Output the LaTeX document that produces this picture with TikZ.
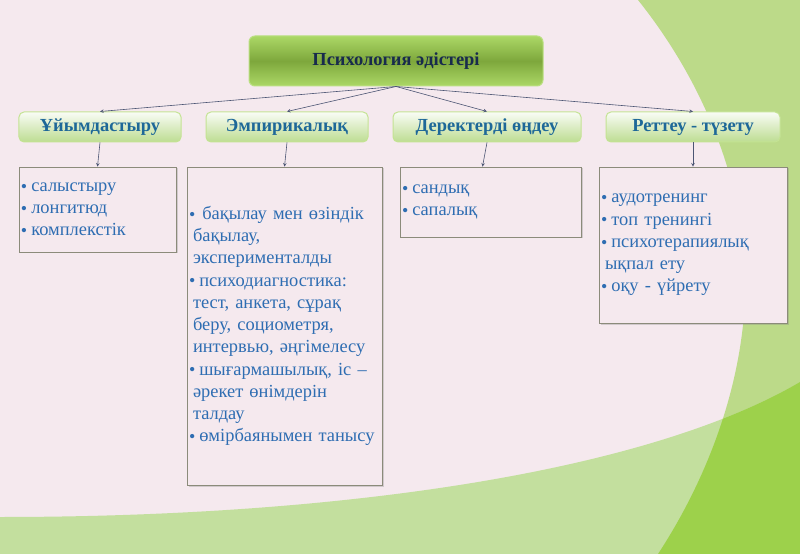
\documentclass[tikz,border=0pt]{standalone}
\usepackage{fontspec}
\setmainfont{Liberation Serif}
\usepackage{tikz}
\usetikzlibrary{shadows}
\definecolor{paper}{HTML}{F5E9EE}
\definecolor{leaf}{HTML}{C3DF9E}
\definecolor{leaftop}{HTML}{BCDA89}
\definecolor{leafdeep}{HTML}{9DD14B}
\definecolor{ink}{HTML}{2E6DB2}
\definecolor{headink}{HTML}{1E6898}
\definecolor{titleink}{HTML}{182B4C}
\definecolor{frame}{HTML}{8B8B7A}
\definecolor{wire}{HTML}{4B5573}
\newcommand{\itm}{{\fontsize{18}{18}\selectfont\raisebox{-.1ex}{•}}\hspace{4bp}}
\newcommand{\cnt}{\hspace*{4bp}}

\begin{document}
\begin{tikzpicture}[x=1bp,y=-1bp,>=stealth,
  font=\fontsize{18.5}{22.3}\selectfont,
  rootbox/.style={rounded corners=6bp,draw=leafdeep!70,line width=1bp,
    top color=leafdeep!85!white,bottom color=leafdeep!85!white,middle color=leafdeep!80!black,
    minimum width=294bp,minimum height=50bp,text=titleink,
    font=\fontsize{18.5}{20}\selectfont\bfseries},
  groupbox/.style={rounded corners=5bp,draw=leafdeep!60,line width=1bp,
    top color=white!90!leaf,bottom color=leaf!85!leafdeep,
    minimum height=30bp,text=headink,font=\fontsize{18.5}{20}\selectfont\bfseries},
  listbox/.style={draw=frame,fill=paper,line width=.8bp,text=ink,align=left,
    inner xsep=2bp,inner ysep=0bp,
    drop shadow={shadow xshift=1.5bp,shadow yshift=-1.5bp,opacity=.3}},
  link/.style={wire,->,line width=.6bp}]
  \useasboundingbox (0,0) rectangle (800,554);
  \fill[paper] (0,0) rectangle (800,554);
  \fill[leaftop] (638,0) .. controls (710,90) and (750,200) .. (745,300)
    .. controls (740,400) and (700,490) .. (658,554) -- (800,554) -- (800,0) -- cycle;
  \fill[leaf] (0,517) .. controls (350,517) and (650,470) .. (800,382) -- (800,554) -- (0,554) -- cycle;
  \begin{scope}
    \clip (0,517) .. controls (350,517) and (650,470) .. (800,382) -- (800,554) -- (0,554) -- cycle;
    \fill[leafdeep] (638,0) .. controls (710,90) and (750,200) .. (745,300)
      .. controls (740,400) and (700,490) .. (658,554) -- (800,554) -- (800,0) -- cycle;
  \end{scope}

  \node[rootbox] (root) at (396,61) {Психология әдістері};

  \node[groupbox,minimum width=162bp] (org) at (100,127) {Ұйымдастыру};
  \node[groupbox,minimum width=162bp] (emp) at (287,127) {Эмпирикалық};
  \node[groupbox,minimum width=188bp] (dat) at (487,127) {Деректерді өңдеу};
  \node[groupbox,minimum width=174bp] (cor) at (693,127) {Реттеу - түзету};

  \node[listbox,text width=153bp,minimum height=85bp] (orgl) at (97.5,209.5)
    {\itm салыстыру\\ \itm лонгитюд\\ \itm комплекстік};
  \node[listbox,text width=191bp,minimum height=318bp] (empl) at (284.5,326)
    {\itm\,бақылау мен өзіндік\\ \cnt бақылау,\\ \cnt эксперименталды\\
     \itm психодиагностика:\\ \cnt тест, анкета, сұрақ\\ \cnt беру, социометря,\\
     \cnt интервью, әңгімелесу\\ \itm шығармашылық, іс –\\ \cnt әрекет өнімдерін\\
     \cnt талдау\\ \itm өмірбаянымен танысу};
  \node[listbox,text width=177bp,minimum height=70bp] (datl) at (490.5,202)
    {\itm сандық\\ \itm сапалық};
  \node[listbox,text width=184bp,minimum height=156bp] (corl) at (693,245)
    {\itm аудотренинг\\ \itm топ тренингі\\ \itm психотерапиялық\\
     \cnt ықпал ету\\ \itm оқу - үйрету};

  \draw[link] (root.south) -- (org.north);
  \draw[link] (root.south) -- (emp.north);
  \draw[link] (root.south) -- (dat.north);
  \draw[link] (root.south) -- (cor.north);
  \draw[link] (org.south) -- (orgl.north);
  \draw[link] (emp.south) -- (empl.north);
  \draw[link] (dat.south) -- ([xshift=-8bp]datl.north);
  \draw[link] (cor.south) -- (corl.north);
\end{tikzpicture}
\end{document}
